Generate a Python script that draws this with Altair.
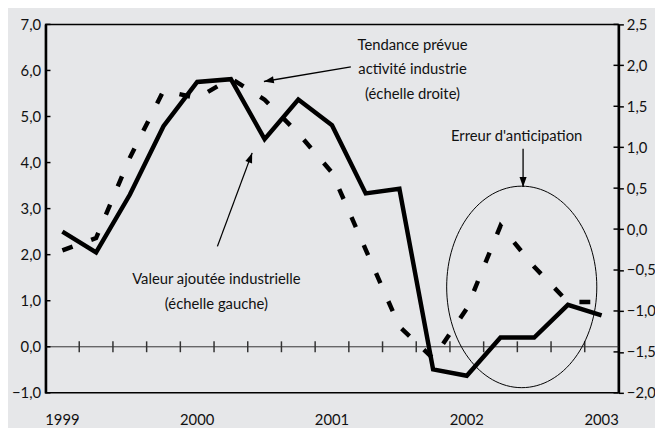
import altair as alt
import pandas as pd

# ---- data (quarterly, 1999Q1 .. 2003Q1) ----
QUARTERS = list(range(17))
YEAR_LABELS = ["1999", "2000", "2001", "2002", "2003"]
YEAR_POS = [0, 4, 8, 12, 16]
VALEUR_AJOUTEE = [2.50, 2.05, 3.30, 4.79, 5.75, 5.81, 4.51, 5.37, 4.81, 3.33, 3.43,
                  -0.49, -0.63, 0.20, 0.20, 0.91, 0.68]
TENDANCE = [-0.26, -0.11, 0.87, 1.69, 1.60, 1.84, 1.58, 1.17, 0.69, -0.25, -1.19,
            -1.58, -0.97, 0.04, -0.46, -0.89, -0.89]
QTR_TICKS = [i + 0.5 for i in range(16)]
LEFT_TICKS = [-1, 0, 1, 2, 3, 4, 5, 6, 7]
RIGHT_TICKS = [-2.0, -1.5, -1.0, -0.5, 0.0, 0.5, 1.0, 1.5, 2.0, 2.5]

# annotations (in data coordinates: quarter index, left-axis value)
ANN_TEXT = [["Tendance prévue", "activité industrie", "(échelle droite)"],
            ["Valeur ajoutée industrielle", "(échelle gauche)"],
            ["Erreur d'anticipation"]]
ANN_X = [10.39, 4.57, 13.48]
ANN_Y = [6.56, 1.47, 4.58]
ARR_X = [8.56, 4.60, 13.67]
ARR_Y = [6.08, 2.18, 4.30]
ARR_X2 = [5.98, 5.63, 13.67]
ARR_Y2 = [5.76, 4.21, 3.47]
ARR_ANGLE = [260, 20, 180]
ELL_X = [13.63]
ELL_Y = [1.30]

W, H = 580, 373
FONT = "Lato"
BG = "#e6e7e9"
INK = "#111111"

xscale = alt.Scale(domain=[-0.5, 16.5], nice=False, zero=False)
yl = alt.Scale(domain=[-1, 7], nice=False, zero=False)
yr = alt.Scale(domain=[-2, 2.5], nice=False, zero=False)

num_expr = "replace(format(datum.value, '.1f'), '.', ',')"

df = pd.DataFrame({"q": QUARTERS, "va": VALEUR_AJOUTEE, "td": TENDANCE})
df_years = pd.DataFrame({"q": YEAR_POS, "label": YEAR_LABELS})
df_qt = pd.DataFrame({"q": QTR_TICKS, "v": [0] * len(QTR_TICKS)})
df_lt = pd.DataFrame({"v": LEFT_TICKS})
df_rt = pd.DataFrame({"v": RIGHT_TICKS})
df_zero = pd.DataFrame({"v": [0]})
df_ann = pd.DataFrame({"t": ANN_TEXT, "x": ANN_X, "y": ANN_Y})
df_arr = pd.DataFrame({"x": ARR_X, "y": ARR_Y, "x2": ARR_X2, "y2": ARR_Y2, "a": ARR_ANGLE})
df_ell = pd.DataFrame({"x": ELL_X, "y": ELL_Y})

ARROW_PATH = "M0,0L-0.36,1L0.36,1Z"
k = 0.5523
rx = 0.745
ELLIPSE_PATH = (
    f"M0,-1C{rx*k:.4f},-1 {rx},-{k} {rx},0"
    f"C{rx},{k} {rx*k:.4f},1 0,1"
    f"C-{rx*k:.4f},1 -{rx},{k} -{rx},0"
    f"C-{rx},-{k} -{rx*k:.4f},-1 0,-1Z"
)


def X(field):
    return alt.X(field, type="quantitative", scale=xscale, axis=None)


# ---- left-scale group ----
zero_rule = alt.Chart(df_zero).mark_rule(color="#333333", strokeWidth=1).encode(
    y=alt.Y("v:Q", scale=yl)
)
qticks = alt.Chart(df_qt).mark_tick(orient="vertical", size=11, thickness=1.5,
                                     color="#333333", opacity=1).encode(
    x=X("q"),
    y=alt.Y("v:Q", scale=yl),
)
lticks = alt.Chart(df_lt).mark_rule(color="black", strokeWidth=1.5).encode(
    y=alt.Y("v:Q", scale=yl),
    x=alt.value(0),
    x2=alt.value(5),
)
years = alt.Chart(df_years).mark_text(font=FONT, fontSize=15, align="center",
                                      baseline="top", color=INK).encode(
    x=X("q"),
    y=alt.value(H + 21),
    text="label:N",
)
solid = alt.Chart(df).mark_line(color="black", strokeWidth=4.5, strokeJoin="miter").encode(
    x=X("q"),
    y=alt.Y("va:Q", scale=yl,
            axis=alt.Axis(orient="left", values=LEFT_TICKS, labelExpr=num_expr, title=None,
                          grid=False, ticks=False, tickSize=0, domainColor="black", domainWidth=2.5,
                          labelPadding=5, labelFontSize=15, labelFont=FONT, labelColor=INK)),
)
ann = alt.Chart(df_ann).mark_text(font=FONT, fontSize=15, lineHeight=25, align="center",
                                  baseline="middle", color=INK).encode(
    x=X("x"),
    y=alt.Y("y:Q", scale=yl),
    text="t",
)
shafts = alt.Chart(df_arr).mark_rule(color="black", strokeWidth=1.3).encode(
    x=X("x"),
    y=alt.Y("y:Q", scale=yl),
    x2="x2:Q",
    y2="y2:Q",
)
heads = alt.Chart(df_arr).mark_point(shape=ARROW_PATH, filled=True, size=400, color="black",
                                     opacity=1, strokeWidth=0).encode(
    x=X("x2"),
    y=alt.Y("y2:Q", scale=yl),
    angle=alt.Angle("a:Q", scale=None),
)
ellipse = alt.Chart(df_ell).mark_point(shape=ELLIPSE_PATH, filled=False, size=41616,
                                       color="black", opacity=1, strokeWidth=1).encode(
    x=X("x"),
    y=alt.Y("y:Q", scale=yl),
)

# ---- right-scale group ----
dashed = alt.Chart(df).mark_line(color="black", strokeWidth=4.5, strokeDash=[11, 20],
                                 strokeCap="butt").encode(
    x=X("q"),
    y=alt.Y("td:Q", scale=yr,
            axis=alt.Axis(orient="right", values=RIGHT_TICKS, labelExpr=num_expr, title=None,
                          grid=False, ticks=True, tickSize=5, tickWidth=1.5, tickColor="black",
                          domainColor="black", domainWidth=2.5, labelPadding=3,
                          labelFontSize=15, labelFont=FONT, labelColor=INK)),
)
rticks = alt.Chart(df_rt).mark_rule(color="black", strokeWidth=1.5).encode(
    y=alt.Y("v:Q", scale=yr),
    x=alt.value(W - 5),
    x2=alt.value(W),
)

left_group = alt.layer(zero_rule, qticks, lticks, years, ann, shafts, heads, ellipse, solid)
right_group = alt.layer(dashed, rticks)

chart = (
    alt.layer(right_group, left_group)
    .resolve_scale(y="independent")
    .properties(width=W, height=H, autosize="none",
                padding={"left": 38, "top": 14, "right": 37, "bottom": 33},
                background=BG)
    .configure_view(stroke="black", strokeWidth=1.5)
)

chart.save("out.html", embed_options={"renderer": "svg", "actions": False})
